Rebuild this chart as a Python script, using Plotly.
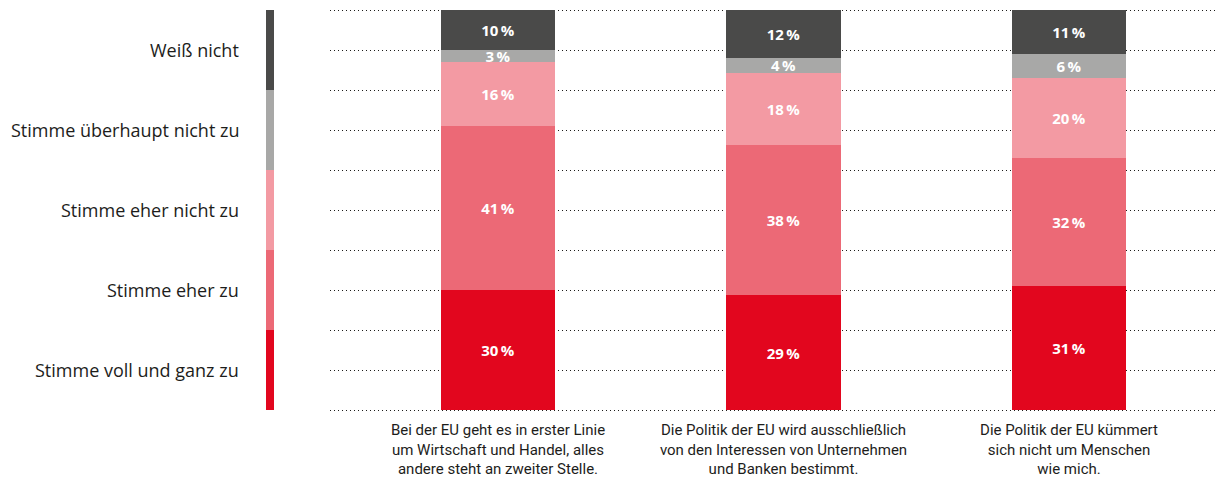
import plotly.graph_objects as go

categories = [
    "Bei der EU geht es in erster Linie<br>um Wirtschaft und Handel, alles<br>andere steht an zweiter Stelle.",
    "Die Politik der EU wird ausschließlich<br>von den Interessen von Unternehmen<br>und Banken bestimmt.",
    "Die Politik der EU kümmert<br>sich nicht um Menschen<br>wie mich.",
]
series_names = ["Stimme voll und ganz zu", "Stimme eher zu", "Stimme eher nicht zu",
                "Stimme überhaupt nicht zu", "Weiß nicht"]
voll_und_ganz = [30, 29, 31]
eher_zu = [41, 38, 32]
eher_nicht = [16, 18, 20]
ueberhaupt_nicht = [3, 4, 6]
weiss_nicht = [10, 12, 11]
series_values = [voll_und_ganz, eher_zu, eher_nicht, ueberhaupt_nicht, weiss_nicht]
colors = ["#e2061e", "#ec6976", "#f39aa3", "#a8a8a7", "#4a4a49"]
grid_values = list(range(0, 101, 10))

# page body has an 8px margin, so figure coords = page coords - 8
W, H = 1216, 474
ML, MR, MT, MB = 322, 4, 2, 72
plot_w = W - ML - MR
plot_h = H - MT - MB

x_pos = [0, 1, 2]
first_center = 490
px_per_unit = 285.5
x0_range = (ML - first_center) / px_per_unit
x1_range = (W - MR - first_center) / px_per_unit

fig = go.Figure()
for name, vals, col in zip(series_names, series_values, colors):
    fig.add_trace(go.Bar(
        x=x_pos, y=vals, name=name, marker=dict(color=col, line=dict(width=0)),
        width=0.4,
        text=[f"{v}\u2009%" for v in vals], textposition="inside",
        insidetextanchor="middle", textangle=0,
        textfont=dict(family="Open Sans", size=15, color="white", weight="bold"),
        hoverinfo="skip", showlegend=False,
    ))

def px_to_paper(px):
    return (px - ML) / plot_w

half_px = 0.5 / plot_h  # keep 1px dotted lines crisp on the pixel grid

shapes = []
annotations = []
for g in grid_values:
    yp = g / 100 - half_px
    shapes.append(dict(type="line", xref="paper", yref="paper", x0=0, x1=1, y0=yp, y1=yp,
                       line=dict(color="#1d1d1b", width=1, dash="1px,3px"), layer="below"))
for i, (name, col) in enumerate(zip(series_names, colors)):
    shapes.append(dict(type="rect", xref="paper", yref="y",
                       x0=px_to_paper(258), x1=px_to_paper(266),
                       y0=i * 20, y1=(i + 1) * 20,
                       fillcolor=col, line=dict(width=0), layer="above"))
    annotations.append(dict(xref="paper", yref="y", x=px_to_paper(233), y=i * 20 + 10,
                            text=name, showarrow=False, xanchor="right", yanchor="middle",
                            font=dict(family="Open Sans", size=18, color="#1d1d1b")))

fig.update_layout(
    width=W, height=H,
    margin=dict(l=ML, r=MR, t=MT, b=MB),
    paper_bgcolor="white", plot_bgcolor="white",
    barmode="stack", barnorm="percent",
    uniformtext=dict(minsize=15, mode="show"),
    shapes=shapes, annotations=annotations,
    xaxis=dict(range=[x0_range, x1_range], tickvals=x_pos, ticktext=categories,
               showgrid=False, zeroline=False, showline=False, ticks="",
               ticklabelstandoff=9,
               tickfont=dict(family="Roboto", size=15, color="#1d1d1b")),
    yaxis=dict(range=[0, 100], showgrid=False, zeroline=False,
               showticklabels=False, showline=False, ticks=""),
)

fig.write_html("out.html")
